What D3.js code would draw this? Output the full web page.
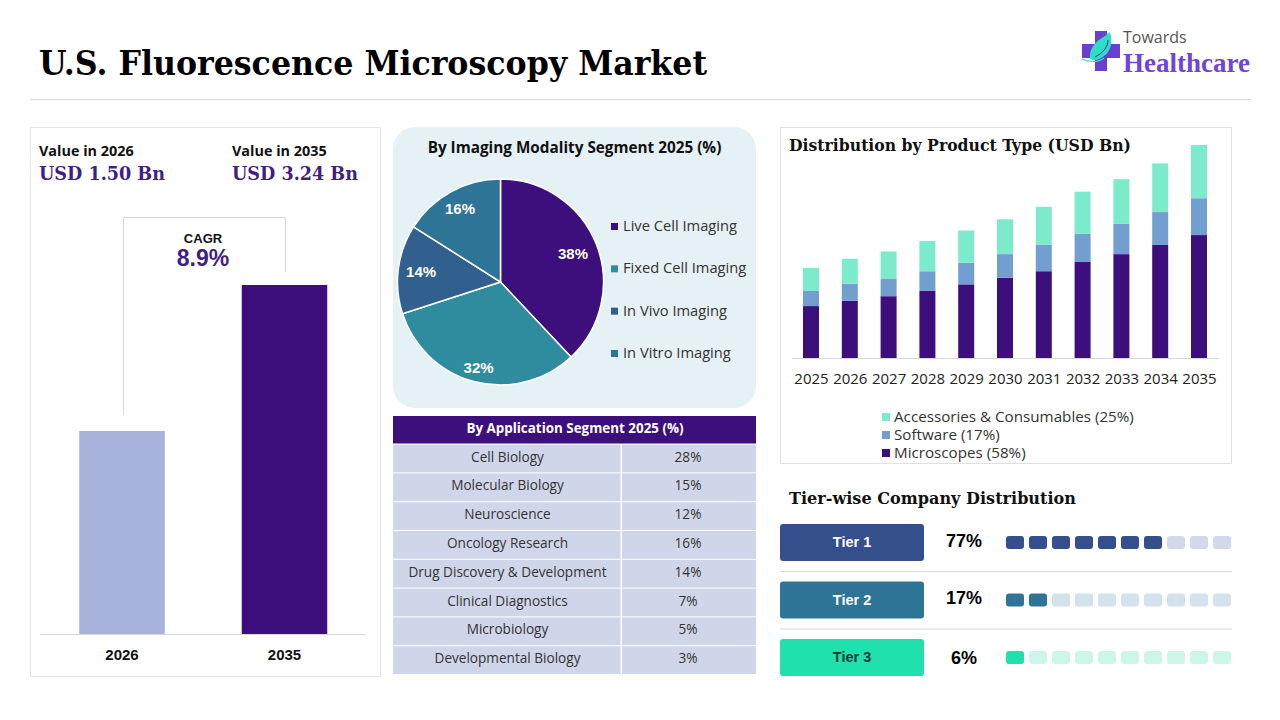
<!DOCTYPE html>
<html>
<head>
<meta charset="utf-8">
<title>U.S. Fluorescence Microscopy Market</title>
<script src="https://cdn.jsdelivr.net/npm/d3@7"></script>
<style>
  html, body { margin: 0; padding: 0; background: #fff; }
  svg { display: block; }
  text { font-family: "Open Sans", sans-serif; }
  .serif { font-family: "DejaVu Serif", serif; font-weight: bold; }
  .logo-serif { font-family: "Liberation Serif", serif; font-weight: bold; }
  .arial { font-family: "Liberation Sans", sans-serif; font-weight: bold; }
</style>
</head>
<body>
<svg id="chart" width="1280" height="720"></svg>
<script>
// market size panel
var marketYears = ["2026", "2035"];
var marketValues = [1.50, 3.24];
var marketColors = ["#a7b3da", "#3c0f7d"];

// pie
var modalityNames = ["Live Cell Imaging", "Fixed Cell Imaging", "In Vivo Imaging", "In Vitro Imaging"];
var modalityValues = [38, 32, 14, 16];
var modalityColors = ["#3c0f7d", "#2e8c9e", "#31608f", "#2e7497"];

// table
var applicationNames = ["Cell Biology", "Molecular Biology", "Neuroscience", "Oncology Research",
  "Drug Discovery & Development", "Clinical Diagnostics", "Microbiology", "Developmental Biology"];
var applicationValues = [28, 15, 12, 16, 14, 7, 5, 3];

// stacked bars
var productYears = ["2025", "2026", "2027", "2028", "2029", "2030", "2031", "2032", "2033", "2034", "2035"];
var microscopes = [0.79, 0.87, 0.94, 1.02, 1.12, 1.22, 1.32, 1.46, 1.58, 1.72, 1.87];
var software = [0.23, 0.26, 0.27, 0.30, 0.33, 0.36, 0.40, 0.43, 0.46, 0.50, 0.56];
var accessories = [0.35, 0.38, 0.41, 0.46, 0.49, 0.53, 0.58, 0.64, 0.68, 0.74, 0.81];
var productNames = ["Accessories & Consumables (25%)", "Software (17%)", "Microscopes (58%)"];
var productColors = ["#7cebcb", "#729fcf", "#3c0f7d"];

// tiers
var tierNames = ["Tier 1", "Tier 2", "Tier 3"];
var tierShares = [77, 17, 6];
var tierFilled = [7, 2, 1];
var tierColors = ["#354e8c", "#2e7497", "#20e0ae"];
var tierLight = ["#d3d8ec", "#d2e3ee", "#cdf6ea"];

var svg = d3.select("#chart");

function label(g, x, y, str, size, color, anchor, cls) {
  return g.append("text")
    .attr("x", x).attr("y", y)
    .attr("font-size", size)
    .attr("fill", color)
    .attr("text-anchor", anchor || "start")
    .attr("class", cls || null)
    .text(str);
}

// DejaVu Serif runs wider than the source face, squeeze it to the measured width
function fit(sel, w) {
  return sel.attr("textLength", w).attr("lengthAdjust", "spacingAndGlyphs");
}

// header
fit(label(svg, 39, 75, "U.S. Fluorescence Microscopy Market", 33, "#000", "start", "serif"), 668);
svg.append("line").attr("x1", 30).attr("x2", 1251).attr("y1", 99.5).attr("y2", 99.5).attr("stroke", "#d9d9d9");

// logo
var logo = svg.append("g");
logo.append("path").attr("fill", "#6a3fd0")
  .attr("d", "M1095 31h12v13h13v14h-13v13h-12v-13h-13v-14h13z");
logo.append("path").attr("fill", "#2be0c0")
  .attr("d", "M1110 32c3 10 1 19-6 24c-5 4-10 5-14 3c-1-9 4-15 9-19c4-3 8-5 11-8z");
logo.append("path").attr("fill", "none").attr("stroke", "#4a2ca0").attr("stroke-width", 1)
  .attr("d", "M1108 40c0 7-5 13-13 17");
logo.append("path").attr("fill", "none").attr("stroke", "#2be0c0").attr("stroke-width", 1.2)
  .attr("d", "M1082 59c6 3 16 4 22-1");
label(logo, 1123, 43, "Towards", 16, "#555");
label(logo, 1123, 72, "Healthcare", 27, "#6f45d6", "start", "logo-serif");

// market size panel
var left = svg.append("g");
left.append("rect").attr("x", 30.5).attr("y", 127.5).attr("width", 350).attr("height", 549)
  .attr("fill", "#fff").attr("stroke", "#e6e6e6");
label(left, 39, 156, "Value in 2026", 14.4, "#111", "start").attr("font-weight", 700);
label(left, 232, 156, "Value in 2035", 14.4, "#111", "start").attr("font-weight", 700);
fit(label(left, 39, 180, "USD 1.50 Bn", 18, "#3f1f85", "start", "serif"), 126);
fit(label(left, 232, 180, "USD 3.24 Bn", 18, "#3f1f85", "start", "serif"), 126);

var mx = d3.scalePoint().domain(marketYears).range([122, 284.5]);
var my = d3.scaleLinear().domain([marketValues[0], marketValues[1]]).range([431, 285]);
var baseY = 634;

left.append("path").attr("fill", "none").attr("stroke", "#d9d9d9")
  .attr("d", "M123.5 415V217.5H285.5V272");
left.selectAll("rect.mbar").data(marketValues).join("rect")
  .attr("class", "mbar")
  .attr("x", function(d, i) { return mx(marketYears[i]) - 42.75; })
  .attr("width", 85.5)
  .attr("y", function(d) { return my(d); })
  .attr("height", function(d) { return baseY - my(d); })
  .attr("fill", function(d, i) { return marketColors[i]; });
left.append("line").attr("x1", 40).attr("x2", 366).attr("y1", baseY + 0.5).attr("y2", baseY + 0.5).attr("stroke", "#d9d9d9");
marketYears.forEach(function(y) {
  label(left, mx(y), 659.5, y, 15, "#111", "middle", "arial");
});
label(left, 203, 243, "CAGR", 13, "#111", "middle", "arial");
label(left, 203, 266, "8.9%", 23, "#3f1f85", "middle", "arial");

// pie panel
var mid = svg.append("g");
mid.append("rect").attr("x", 393).attr("y", 127).attr("width", 363).attr("height", 281).attr("rx", 22)
  .attr("fill", "#e6f1f5");
label(mid, 574.5, 153, "By Imaging Modality Segment 2025 (%)", 15.3, "#111", "middle").attr("font-weight", 700);

var pie = d3.pie().sort(null)(modalityValues);
var arc = d3.arc().innerRadius(0).outerRadius(103);
var pieG = mid.append("g").attr("transform", "translate(500.5,282)");
pieG.selectAll("path").data(pie).join("path")
  .attr("d", arc)
  .attr("fill", function(d, i) { return modalityColors[i]; })
  .attr("stroke", "#fff").attr("stroke-width", 1.5);
// label radius differs per slice in the source so they are nudged along the arc
var pieLabelRadius = [78, 88, 80, 84];
pieG.selectAll("text").data(pie).join("text")
  .attr("class", "arial")
  .attr("transform", function(d, i) {
    var a = (d.startAngle + d.endAngle) / 2;
    var r = pieLabelRadius[i];
    return "translate(" + (Math.sin(a) * r) + "," + (-Math.cos(a) * r) + ")";
  })
  .attr("text-anchor", "middle").attr("dy", "0.36em")
  .attr("font-size", 15).attr("fill", "#fff")
  .text(function(d) { return d.value + "%"; });

var pieLegendY = d3.scalePoint().domain(modalityNames).range([226, 353]);
modalityNames.forEach(function(n, i) {
  mid.append("rect").attr("x", 611).attr("y", pieLegendY(n) - 3).attr("width", 7).attr("height", 7)
    .attr("fill", modalityColors[i]);
  label(mid, 623, pieLegendY(n) + 5, n, 14.7, "#333");
});

// table
var rowY = d3.scaleBand().domain(applicationNames).range([443.6, 674]);
mid.append("rect").attr("x", 393).attr("y", 416).attr("width", 363).attr("height", 27.5).attr("fill", "#3c0f7d");
label(mid, 575, 433, "By Application Segment 2025 (%)", 13.4, "#fff", "middle").attr("font-weight", 700);
applicationNames.forEach(function(n, i) {
  var y = rowY(n), h = rowY.bandwidth();
  mid.append("rect").attr("x", 393).attr("y", y + 1).attr("width", 227.5).attr("height", h - 1).attr("fill", "#d0d6ea");
  mid.append("rect").attr("x", 622).attr("y", y + 1).attr("width", 134).attr("height", h - 1).attr("fill", "#d0d6ea");
  label(mid, 507.5, y + h / 2 + 3.5, n, 13.6, "#333", "middle");
  label(mid, 688, y + h / 2 + 3.5, applicationValues[i] + "%", 13.6, "#333", "middle");
});

// stacked bars
var right = svg.append("g");
right.append("rect").attr("x", 780.5).attr("y", 127.5).attr("width", 451).attr("height", 336)
  .attr("fill", "#fff").attr("stroke", "#e0e0e0");
fit(label(right, 789, 151, "Distribution by Product Type (USD Bn)", 17, "#111", "start", "serif"), 342);

var stackRows = productYears.map(function(y, i) {
  return { year: y, microscopes: microscopes[i], software: software[i], accessories: accessories[i] };
});
var stackKeys = ["microscopes", "software", "accessories"];
var keyColor = { microscopes: productColors[2], software: productColors[1], accessories: productColors[0] };
var series = d3.stack().keys(stackKeys)(stackRows);
var px = d3.scalePoint().domain(productYears).range([811, 1199]);
var py = d3.scaleLinear().domain([0, 3.24]).range([358, 145]);

right.selectAll("g.layer").data(series).join("g")
  .attr("class", "layer")
  .attr("fill", function(s) { return keyColor[s.key]; })
  .selectAll("rect").data(function(s) { return s; }).join("rect")
  .attr("x", function(d) { return px(d.data.year) - 8; })
  .attr("width", 16)
  .attr("y", function(d) { return py(d[1]); })
  .attr("height", function(d) { return py(d[0]) - py(d[1]); });

var xAxis = right.append("g").attr("transform", "translate(0,358)")
  .call(d3.axisBottom(px).tickSize(0).tickPadding(15));
xAxis.select(".domain").attr("d", "M792 0.5H1219").attr("stroke", "#d9d9d9");
xAxis.selectAll("text").attr("font-size", 15).attr("fill", "#222")
  .style("font-family", '"Open Sans", sans-serif');

var legY = d3.scalePoint().domain(productNames).range([417, 453]);
productNames.forEach(function(n, i) {
  right.append("rect").attr("x", 882).attr("y", legY(n) - 4).attr("width", 8).attr("height", 8)
    .attr("fill", productColors[i]);
  label(right, 894, legY(n) + 5, n, 15.2, "#333");
});

// tiers
var tiers = svg.append("g");
fit(label(tiers, 789, 504, "Tier-wise Company Distribution", 16.5, "#111", "start", "serif"), 287);
var tierY = d3.scalePoint().domain(tierNames).range([524, 639]);
var cellX = d3.scaleBand().domain(d3.range(10)).range([1006, 1231]).paddingInner(0.217).paddingOuter(0);
var shareNudge = [0, -1, 2];
tierNames.forEach(function(n, i) {
  var y = tierY(n);
  tiers.append("rect").attr("x", 780).attr("y", y).attr("width", 144).attr("height", 37).attr("rx", 3)
    .attr("fill", tierColors[i]);
  label(tiers, 852, y + 23, n, 14.5, i === 2 ? "#103a30" : "#fff", "middle", "arial");
  label(tiers, 964, y + 23 + shareNudge[i], tierShares[i] + "%", 18, "#000", "middle", "arial");
  tiers.selectAll("rect.c" + i).data(d3.range(10)).join("rect")
    .attr("class", "c" + i)
    .attr("x", function(d) { return cellX(d); })
    .attr("y", y + 12)
    .attr("width", 18).attr("height", 13).attr("rx", 3)
    .attr("fill", function(d) { return d < tierFilled[i] ? tierColors[i] : tierLight[i]; });
  if (i < 2) {
    tiers.append("line").attr("x1", 780).attr("x2", 1232)
      .attr("y1", y + 47.5).attr("y2", y + 47.5).attr("stroke", "#d9d9d9");
  }
});
</script>
</body>
</html>
